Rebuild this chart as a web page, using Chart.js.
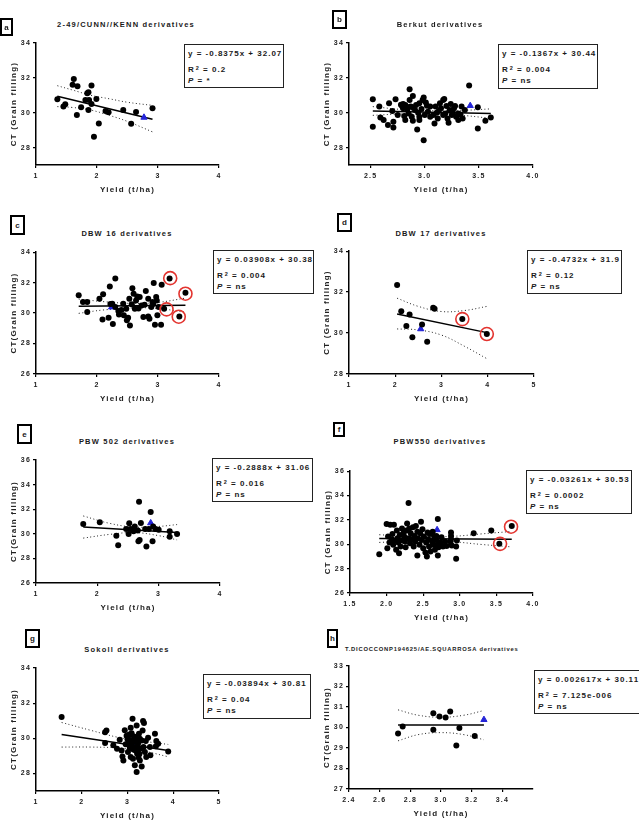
<!DOCTYPE html>
<html>
<head>
<meta charset="utf-8">
<script src="https://cdn.jsdelivr.net/npm/chart.js@4.4.0/dist/chart.umd.min.js"></script>
<style>
  body { margin: 0; background: #fff; width: 639px; height: 826px; position: relative; overflow: hidden;
         font-family: 'Liberation Sans', Arial, sans-serif; font-weight: bold; color: #1a1a1a; }
  canvas { position: absolute; }
  .ttl { position: absolute; font-size: 7.5px; letter-spacing: 1.2px; white-space: nowrap; transform: translate(-50%, -50%); }
  .ttl.small { font-size: 5.8px; letter-spacing: 0.8px; transform: translate(0, -50%); }
  .tag { position: absolute; border: 2px solid #000; box-sizing: border-box; font-size: 8px;
         display: flex; align-items: center; justify-content: center; }
  .eq { position: absolute; border: 1.5px solid #222; box-sizing: border-box; background: #fff;
        font-size: 8px; letter-spacing: 1px; white-space: nowrap; overflow: hidden; }
  .eq div { position: absolute; left: 3px; line-height: 10px; }
  .eq sup { font-size: 5.5px; vertical-align: top; position: relative; top: -2px; margin-left: 1px; }
</style>
</head>
<body>
<script>
// ---------- a : 2-49/CUNN//KENN ----------
const aYield = [1.35, 1.45, 1.48, 1.62, 1.60, 1.68, 1.67, 1.74, 1.81, 1.84, 1.86, 1.87, 1.86, 1.91, 1.91, 1.99, 1.95, 2.03, 2.14, 2.19, 2.43, 2.56, 2.64, 2.91];
const aCT = [30.77, 30.35, 30.48, 31.94, 31.60, 31.52, 29.87, 30.31, 30.73, 31.12, 31.17, 30.73, 30.15, 31.56, 30.50, 30.79, 28.62, 29.38, 30.10, 30.02, 30.15, 29.37, 30.04, 30.25];
const aParent = [2.77, 29.73];
const aFitX = [1.35, 2.91], aFitY = [30.94, 29.63];
const aBandX = [1.35, 1.6, 1.9, 2.2, 2.5, 2.91];
const aUpper = [31.55, 31.3, 31.0, 30.8, 30.6, 30.42];
const aLower = [30.35, 30.3, 30.15, 29.85, 29.5, 28.9];

// ---------- b : Berkut ----------
const bYield = [2.52, 2.52, 2.58, 2.59, 2.62, 2.66, 2.67, 2.70, 2.71, 2.71,
  2.73, 2.79, 2.80, 2.80, 2.82, 2.83, 2.85, 2.86, 2.86, 2.87,
  2.88, 2.89, 2.89, 2.91, 2.92, 2.93, 2.94, 2.95, 2.95, 2.97,
  2.98, 2.99, 2.99, 3.00, 3.01, 3.03, 3.05, 3.08, 3.09, 3.10,
  3.11, 3.12, 3.14, 3.15, 3.17, 3.17, 3.18, 3.19, 3.20, 3.21,
  3.22, 3.23, 3.24, 3.25, 3.27, 3.28, 3.29, 3.31, 3.31, 3.34,
  3.35, 3.37, 3.41, 3.49, 3.49, 3.56, 3.61, 2.75, 2.81, 2.82,
  2.95, 3.05, 2.89, 2.78, 2.84, 3.02, 3.13, 3.26, 3.33];
const bCT = [30.77, 29.19, 30.35, 29.73, 29.58, 29.29, 30.54, 30.10, 29.48, 29.15,
  30.77, 30.38, 30.25, 30.50, 30.44, 30.35, 29.96, 31.35, 30.73, 30.35,
  29.77, 30.96, 29.54, 30.15, 30.44, 29.04, 30.00, 29.77, 30.54, 30.21,
  30.73, 30.87, 28.42, 29.87, 30.58, 30.06, 29.77, 29.87, 29.38, 30.35,
  30.00, 29.67, 30.54, 30.25, 29.87, 30.73, 30.79, 29.96, 30.38, 29.67,
  29.42, 30.15, 30.50, 29.87, 30.25, 30.38, 29.77, 29.58, 29.96, 30.35,
  29.67, 30.15, 31.56, 30.31, 29.10, 29.54, 29.73, 29.87, 29.81, 29.58,
  29.58, 30.35, 30.31, 30.45, 30.20, 30.40, 30.10, 30.00, 29.90];
const bParent = [3.42, 30.40];
const bFitX = [2.52, 3.61], bFitY = [30.10, 29.95];
const bBandX = [2.52, 2.8, 3.05, 3.3, 3.61];
const bUpper = [30.35, 30.18, 30.12, 30.12, 30.22];
const bLower = [29.85, 29.93, 29.92, 29.87, 29.68];

// ---------- c : DBW 16 ----------
const cYield = [1.70, 1.77, 1.84, 1.84, 2.04, 2.10, 2.09, 2.19, 2.21, 2.30,
  2.25, 2.26, 2.30, 2.35, 2.36, 2.43, 2.44, 2.48, 2.49, 2.51,
  2.54, 2.53, 2.57, 2.58, 2.60, 2.62, 2.64, 2.66, 2.70, 2.73,
  2.76, 2.80, 2.84, 2.84, 2.86, 2.89, 2.91, 2.93, 2.95, 2.97,
  2.98, 2.99, 3.01, 3.05, 3.06, 3.10, 3.19, 3.35, 3.45, 2.40,
  2.68, 2.78, 2.92, 2.22];
const cCT = [31.16, 30.72, 30.72, 30.07, 30.94, 31.23, 29.58, 29.69, 31.75, 32.27,
  30.61, 29.28, 30.39, 30.13, 29.91, 30.61, 29.85, 30.28, 29.52, 29.69,
  29.19, 30.94, 30.57, 31.62, 31.27, 30.28, 30.83, 31.09, 31.05, 30.50,
  29.74, 31.44, 29.78, 30.94, 29.63, 30.39, 30.72, 31.97, 29.24, 31.05,
  30.83, 29.85, 30.39, 29.24, 31.86, 30.28, 32.27, 29.78, 31.33, 30.20,
  30.30, 30.55, 30.60, 30.60];
const cParent = [2.24, 30.39];
const cRingX = [3.14, 3.20, 3.34, 3.45], cRingY = [30.24, 32.29, 29.76, 31.27];
const cFitX = [1.70, 3.45], cFitY = [30.45, 30.51];
const cBandX = [1.7, 2.1, 2.6, 3.0, 3.45];
const cUpper = [30.92, 30.75, 30.63, 30.70, 30.98];
const cLower = [29.98, 30.20, 30.34, 30.30, 30.05];

// ---------- d : DBW 17 ----------
const dYield = [2.04, 2.13, 2.24, 2.31, 2.37, 2.58, 2.69, 2.82, 2.85, 3.45, 3.98];
const dCT = [32.34, 31.06, 30.34, 30.90, 29.80, 30.42, 29.58, 31.24, 31.19, 30.68, 29.95];
const dParent = [2.55, 30.20];
const dRingX = [3.45, 3.98], dRingY = [30.68, 29.95];
const dFitX = [2.04, 3.98], dFitY = [30.93, 30.02];
const dBandX = [2.04, 2.5, 3.0, 3.5, 3.98];
const dUpper = [31.7, 31.3, 31.05, 31.1, 31.3];
const dLower = [30.2, 30.15, 29.9, 29.35, 28.75];

// ---------- e : PBW 502 ----------
const eYield = [1.77, 2.04, 2.31, 2.34, 2.47, 2.52, 2.51, 2.54, 2.59, 2.61, 2.66, 2.67, 2.68, 2.69, 2.71, 2.78, 2.80, 2.84, 2.87, 2.90, 2.91, 2.95, 3.00, 3.18, 3.18, 3.30];
const eCT = [30.80, 30.94, 29.85, 29.06, 30.40, 30.86, 29.99, 30.40, 30.21, 30.59, 30.26, 29.39, 32.60, 29.50, 30.88, 30.40, 28.97, 30.40, 31.78, 29.39, 30.59, 30.40, 30.32, 30.21, 29.77, 29.99];
const eParent = [2.87, 30.88];
const eFitX = [1.77, 3.30], eFitY = [30.55, 30.11];
const eBandX = [1.77, 2.2, 2.6, 3.0, 3.3];
const eUpper = [31.45, 30.85, 30.55, 30.6, 30.75];
const eLower = [29.65, 29.95, 30.1, 29.85, 29.5];

// ---------- f : PBW550 ----------
const fYield = [1.90, 2.00, 2.01, 2.02, 2.04, 2.05, 2.07, 2.08, 2.09, 2.10,
  2.11, 2.13, 2.14, 2.15, 2.16, 2.17, 2.18, 2.19, 2.21, 2.22,
  2.23, 2.24, 2.25, 2.26, 2.27, 2.28, 2.30, 2.30, 2.31, 2.32,
  2.33, 2.34, 2.36, 2.37, 2.38, 2.39, 2.40, 2.42, 2.42, 2.43,
  2.45, 2.46, 2.47, 2.48, 2.49, 2.50, 2.51, 2.53, 2.54, 2.55,
  2.56, 2.57, 2.58, 2.59, 2.60, 2.62, 2.63, 2.64, 2.65, 2.66,
  2.68, 2.68, 2.69, 2.70, 2.71, 2.70, 2.74, 2.75, 2.77, 2.80,
  2.82, 2.87, 2.88, 2.88, 2.88, 2.89, 2.95, 2.95, 2.96, 3.19,
  3.43, 3.54, 3.71];
const fCT = [29.18, 31.67, 29.67, 30.63, 30.14, 31.59, 30.41, 30.84, 29.95, 31.59,
  30.30, 29.54, 31.12, 30.49, 30.14, 29.26, 30.76, 29.81, 31.30, 30.30,
  30.90, 30.63, 30.22, 29.76, 31.12, 31.71, 33.38, 30.49, 31.30, 30.08,
  30.90, 30.41, 31.39, 29.81, 30.68, 30.22, 31.49, 29.07, 31.03, 30.49,
  29.95, 30.90, 31.84, 30.35, 31.22, 29.67, 30.63, 29.32, 30.14, 29.00,
  30.96, 30.41, 29.81, 30.84, 29.40, 30.22, 31.03, 29.95, 30.63, 29.54,
  30.35, 30.68, 29.95, 29.07, 29.76, 32.08, 30.14, 30.57, 29.81, 30.22,
  29.86, 30.22, 30.41, 30.96, 30.68, 29.89, 29.81, 28.80, 30.30, 30.90,
  31.12, 30.03, 31.49];
const fParent = [2.69, 31.18];
const fRingX = [3.55, 3.70], fRingY = [30.03, 31.44];
const fFitX = [1.90, 3.71], fFitY = [30.47, 30.41];
const fBandX = [1.9, 2.4, 2.9, 3.3, 3.71];
const fUpper = [30.78, 30.62, 30.65, 30.85, 31.05];
const fLower = [30.15, 30.28, 30.2, 29.98, 29.78];

// ---------- g : Sokoll ----------
const gYield = [1.56, 2.51, 2.54, 2.51, 2.69, 2.77, 2.83, 2.87, 2.91, 2.89,
  2.94, 2.96, 2.98, 3.01, 3.04, 3.05, 3.07, 3.09, 3.11, 3.12,
  3.14, 3.16, 3.18, 3.20, 3.20, 3.21, 3.23, 3.25, 3.27, 3.28,
  3.31, 3.33, 3.34, 3.36, 3.38, 3.40, 3.41, 3.45, 3.49, 3.50,
  3.60, 3.62, 3.63, 3.67, 3.89, 3.01, 3.09, 3.20, 3.16, 3.07,
  3.27, 3.31, 3.23, 3.12, 3.04, 3.14, 3.22, 3.18, 3.26, 3.10,
  3.35, 3.00, 3.24];
const gCT = [31.21, 30.35, 30.45, 29.73, 29.60, 29.41, 29.92, 29.31, 28.74, 28.97,
  30.46, 29.66, 30.14, 29.22, 29.92, 29.45, 28.93, 30.29, 31.11, 29.78,
  29.35, 28.46, 30.06, 30.73, 28.08, 29.12, 29.69, 30.26, 28.74, 29.40,
  28.40, 30.45, 30.98, 30.87, 29.22, 29.84, 28.93, 30.03, 29.50, 29.03,
  30.26, 29.54, 29.84, 29.69, 29.25, 29.69, 29.60, 29.50, 29.88, 30.60,
  29.97, 29.88, 29.22, 28.84, 30.22, 30.10, 29.80, 29.30, 29.10, 29.40,
  29.50, 29.95, 28.90];
const gParent = [3.16, 29.73];
const gFitX = [1.56, 3.89], gFitY = [30.21, 29.30];
const gBandX = [1.56, 2.2, 2.8, 3.3, 3.89];
const gUpper = [30.9, 30.45, 30.05, 29.85, 29.65];
const gLower = [29.5, 29.5, 29.45, 29.3, 28.95];

// ---------- h : T.DICOCCON PI94625 / AE.SQUARROSA ----------
const hYield = [2.72, 2.75, 2.95, 2.95, 2.99, 3.03, 3.06, 3.12, 3.10, 3.22];
const hCT = [29.71, 30.05, 30.70, 29.89, 30.54, 30.49, 30.78, 29.97, 29.12, 29.59];
const hParent = [3.28, 30.38];
const hFitX = [2.72, 3.28], hFitY = [30.12, 30.12];
const hBandX = [2.72, 2.85, 3.0, 3.15, 3.28];
const hUpper = [30.86, 30.6, 30.5, 30.6, 30.83];
const hLower = [29.35, 29.65, 29.75, 29.65, 29.4];

// axis ticks
const ticks1to4 = [1, 2, 3, 4];
const ticks1to5 = [1, 2, 3, 4, 5];
const bXTicks = [2.5, 3.0, 3.5, 4.0];
const fXTicks = [1.5, 2.0, 2.5, 3.0, 3.5, 4.0];
const hXTicks = [2.4, 2.6, 2.8, 3.0, 3.2, 3.4];
const ct28to34 = [28, 30, 32, 34];
const ct26to34 = [26, 28, 30, 32, 34];
const ct26to36 = [26, 28, 30, 32, 34, 36];
const ct27to33 = [27, 28, 29, 30, 31, 32, 33];

// titles and regression text
const titles = ['2-49/CUNN//KENN derivatives', 'Berkut derivatives', 'DBW 16 derivatives', 'DBW 17 derivatives',
  'PBW 502 derivatives', 'PBW550 derivatives', 'Sokoll derivatives', 'T.DICOCCONP194625/AE.SQUARROSA derivatives'];
const equations = ['y = -0.8375x + 32.07', 'y = -0.1367x + 30.44', 'y = 0.03908x + 30.38', 'y = -0.4732x + 31.9',
  'y = -0.2888x + 31.06', 'y = -0.03261x + 30.53', 'y = -0.03894x + 30.81', 'y = 0.002617x + 30.11'];
const rSquared = ['0.2', '0.004', '0.004', '0.12', '0.016', '0.0002', '0.04', '7.125e-006'];
const pValues = ['*', 'ns', 'ns', 'ns', 'ns', 'ns', 'ns', 'ns'];

const YW = 27, XH = 30, PT = 8, PR = 14;   // axis box sizes

Chart.defaults.font.family = "'Liberation Sans', Arial, sans-serif";
Chart.defaults.font.weight = 'bold';
Chart.register({
  id: 'spacing',
  beforeLayout(c) { c.ctx.letterSpacing = '1.2px'; },
  beforeDraw(c) { c.ctx.letterSpacing = '1.2px'; }
});

function pts(xs, ys) { return xs.map((v, i) => ({ x: v, y: ys[i] })); }

function addPanel(d, lay) {
  const [L, T, R, B] = lay.plot;
  const cv = document.createElement('canvas');
  cv.width = R - L + YW + PR;
  cv.height = B - T + PT + XH;
  cv.style.left = (L - YW) + 'px';
  cv.style.top = (T - PT) + 'px';
  document.body.appendChild(cv);

  const ds = [];
  if (d.ringX) ds.push({ data: pts(d.ringX, d.ringY), pointRadius: 6.5, pointBorderWidth: 1.6,
    pointBorderColor: '#e3342f', pointBackgroundColor: 'rgba(0,0,0,0)', order: 0 });
  ds.push({ data: pts(d.x, d.y), pointRadius: 3, pointBorderWidth: 0,
    pointBackgroundColor: '#000', pointBorderColor: '#000', order: 1 });
  ds.push({ data: [{ x: d.parent[0], y: d.parent[1] }], pointStyle: 'triangle', pointRadius: 3.6,
    pointBackgroundColor: '#2424d8', pointBorderColor: '#2424d8', order: 2 });
  ds.push({ data: pts(d.fitX, d.fitY), showLine: true, borderColor: '#000', borderWidth: 1.5, pointRadius: 0, order: 3 });
  ds.push({ data: pts(d.bandX, d.up), showLine: true, borderColor: '#222', borderWidth: 1,
    borderDash: [1, 2.5], pointRadius: 0, tension: 0.4, order: 4 });
  ds.push({ data: pts(d.bandX, d.lo), showLine: true, borderColor: '#222', borderWidth: 1,
    borderDash: [1, 2.5], pointRadius: 0, tension: 0.4, order: 4 });

  const axis = (min, max, list, dec, title, horiz) => ({
    type: 'linear', min: min, max: max,
    afterBuildTicks: s => { s.ticks = list.map(v => ({ value: v })); },
    afterFit: s => { if (horiz) s.height = XH; else s.width = YW; },
    ticks: { font: { size: 7, weight: 'bold' }, color: '#222', padding: horiz ? 4 : 2,
      maxRotation: 0, autoSkip: false, callback: v => v.toFixed(dec) },
    grid: { drawOnChartArea: false, tickLength: 3, color: '#000', lineWidth: 1.2 },
    border: { color: '#000', width: 1.5 },
    title: { display: true, text: title, color: '#222', font: { size: 8, weight: 'bold' }, padding: 0 }
  });

  new Chart(cv, {
    type: 'scatter',
    data: { datasets: ds },
    options: {
      responsive: false, animation: false, devicePixelRatio: 1,
      layout: { padding: { left: 0, top: PT, right: PR, bottom: 0 } },
      plugins: { legend: { display: false }, tooltip: { enabled: false } },
      scales: {
        x: axis(d.xMin, d.xMax, d.xTicks, d.xDec, 'Yield (t/ha)', true),
        y: axis(d.yMin, d.yMax, d.yTicks, 0, d.yTitle, false)
      }
    }
  });

  const t = document.createElement('div');
  t.className = 'ttl' + (lay.small ? ' small' : '');
  t.textContent = titles[d.k];
  t.style.left = lay.title[0] + 'px';
  t.style.top = lay.title[1] + 'px';
  document.body.appendChild(t);

  const g = document.createElement('div');
  g.className = 'tag';
  g.textContent = lay.letter;
  g.style.left = lay.tag[0] + 'px'; g.style.top = lay.tag[1] + 'px';
  g.style.width = lay.tag[2] + 'px'; g.style.height = lay.tag[3] + 'px';
  document.body.appendChild(g);

  const e = document.createElement('div');
  e.className = 'eq';
  e.style.left = lay.eq[0] + 'px'; e.style.top = lay.eq[1] + 'px';
  e.style.width = lay.eq[2] + 'px'; e.style.height = lay.eq[3] + 'px';
  e.innerHTML = '<div style="top:4px">' + equations[d.k] + '</div>' +
    '<div style="top:20px">R<sup>2</sup> = ' + rSquared[d.k] + '</div>' +
    '<div style="top:31px"><i>P</i> = ' + pValues[d.k] + '</div>';
  document.body.appendChild(e);
}

const panelData = [
  { k: 0, x: aYield, y: aCT, parent: aParent, fitX: aFitX, fitY: aFitY, bandX: aBandX, up: aUpper, lo: aLower,
    xMin: 1, xMax: 4, xTicks: ticks1to4, xDec: 0, yMin: 27, yMax: 34, yTicks: ct28to34, yTitle: 'CT (Grain filling)' },
  { k: 1, x: bYield, y: bCT, parent: bParent, fitX: bFitX, fitY: bFitY, bandX: bBandX, up: bUpper, lo: bLower,
    xMin: 2.3, xMax: 4, xTicks: bXTicks, xDec: 1, yMin: 27, yMax: 34, yTicks: ct28to34, yTitle: 'CT (Grain filling)' },
  { k: 2, x: cYield, y: cCT, parent: cParent, ringX: cRingX, ringY: cRingY, fitX: cFitX, fitY: cFitY, bandX: cBandX, up: cUpper, lo: cLower,
    xMin: 1, xMax: 4, xTicks: ticks1to4, xDec: 0, yMin: 26, yMax: 34, yTicks: ct26to34, yTitle: 'CT(Grain filling)' },
  { k: 3, x: dYield, y: dCT, parent: dParent, ringX: dRingX, ringY: dRingY, fitX: dFitX, fitY: dFitY, bandX: dBandX, up: dUpper, lo: dLower,
    xMin: 1, xMax: 5, xTicks: ticks1to5, xDec: 0, yMin: 28, yMax: 34, yTicks: ct28to34, yTitle: 'CT (Grain filling)' },
  { k: 4, x: eYield, y: eCT, parent: eParent, fitX: eFitX, fitY: eFitY, bandX: eBandX, up: eUpper, lo: eLower,
    xMin: 1, xMax: 4, xTicks: ticks1to4, xDec: 0, yMin: 26, yMax: 36, yTicks: ct26to36, yTitle: 'CT(Grain filling)' },
  { k: 5, x: fYield, y: fCT, parent: fParent, ringX: fRingX, ringY: fRingY, fitX: fFitX, fitY: fFitY, bandX: fBandX, up: fUpper, lo: fLower,
    xMin: 1.5, xMax: 4, xTicks: fXTicks, xDec: 1, yMin: 26, yMax: 36, yTicks: ct26to36, yTitle: 'CT (Grain filling)' },
  { k: 6, x: gYield, y: gCT, parent: gParent, fitX: gFitX, fitY: gFitY, bandX: gBandX, up: gUpper, lo: gLower,
    xMin: 1, xMax: 5, xTicks: ticks1to5, xDec: 0, yMin: 27, yMax: 34, yTicks: ct28to34, yTitle: 'CT(Grain filling)' },
  { k: 7, x: hYield, y: hCT, parent: hParent, fitX: hFitX, fitY: hFitY, bandX: hBandX, up: hUpper, lo: hLower,
    xMin: 2.4, xMax: 3.6, xTicks: hXTicks, xDec: 1, yMin: 27, yMax: 33, yTicks: ct27to33, yTitle: 'CT(Grain filling)' }
];

// page placement of each panel: plot [left, top, right, bottom], letter tag, title centre, equation box
const panelLayout = [
  { letter: 'a', plot: [36, 43, 219, 165], tag: [0, 18, 13, 18], title: [126, 24], eq: [184, 44, 100, 44] },
  { letter: 'b', plot: [349, 43, 533, 165], tag: [332, 10, 15, 19], title: [440, 24], eq: [498, 44, 100, 45] },
  { letter: 'c', plot: [36, 252, 219, 374], tag: [10, 215, 15, 20], title: [127, 233], eq: [213, 250, 101, 44] },
  { letter: 'd', plot: [349, 251, 534, 374], tag: [337, 213, 15, 19], title: [441, 233], eq: [527, 250, 95, 44] },
  { letter: 'e', plot: [36, 460, 220, 583], tag: [17, 424, 15, 20], title: [127, 441], eq: [212, 458, 101, 44] },
  { letter: 'f', plot: [350, 471, 533, 593], tag: [333, 422, 12, 15], title: [440, 441], eq: [526, 470, 106, 44] },
  { letter: 'g', plot: [36, 668, 219, 791], tag: [25, 629, 15, 19], title: [127, 649], eq: [203, 674, 108, 45] },
  { letter: 'h', plot: [349, 666, 533, 789], tag: [327, 629, 11, 19], title: [345, 649], eq: [534, 670, 111, 44], small: true }
];

panelData.forEach((d, i) => addPanel(d, panelLayout[i]));
</script>
</body>
</html>
